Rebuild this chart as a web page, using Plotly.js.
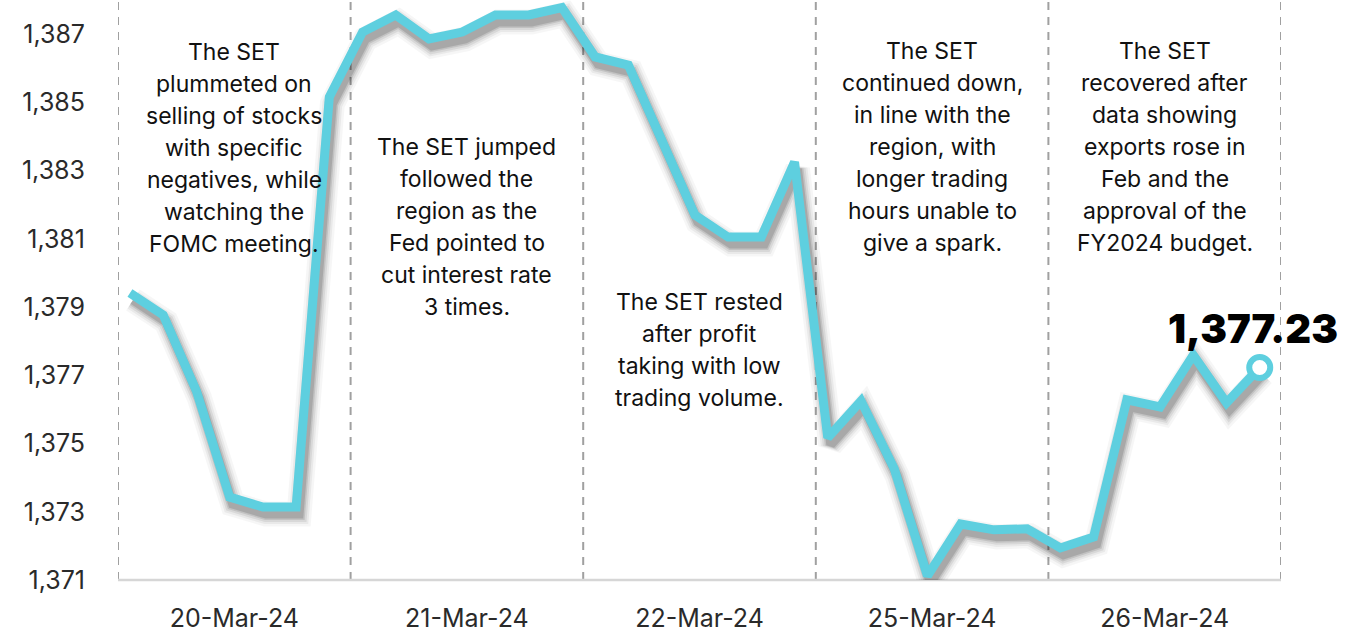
<!DOCTYPE html>
<html>
<head>
<meta charset="utf-8">
<script src="https://cdn.plot.ly/plotly-3.0.1.min.js"></script>
<style>
  html, body { margin: 0; padding: 0; background: #fff; }
  #chart { width: 1348px; height: 633px; }
</style>
</head>
<body>
<div id="chart"></div>
<script>
// ---- data ----
const days = ['20-Mar-24', '21-Mar-24', '22-Mar-24', '25-Mar-24', '26-Mar-24'];
const pointsPerDay = 7;
const setIndex = [
  1379.41, 1378.77, 1376.54, 1373.43, 1373.14, 1373.14, 1385.16,
  1387.06, 1387.56, 1386.86, 1387.06, 1387.56, 1387.56, 1387.78,
  1386.33, 1386.09, 1383.90, 1381.70, 1381.05, 1381.05, 1383.25,
  1375.17, 1376.25, 1374.26, 1371.12, 1372.64, 1372.47, 1372.50,
  1371.94, 1372.26, 1376.28, 1376.07, 1377.59, 1376.19, 1377.23
];
const yTicks = [1371, 1373, 1375, 1377, 1379, 1381, 1383, 1385, 1387];
const notes = [
  ['The SET', 'plummeted on', 'selling of stocks', 'with specific', 'negatives, while', 'watching the', 'FOMC meeting.'],
  ['The SET jumped', 'followed the', 'region as the', 'Fed pointed to', 'cut interest rate', '3 times.'],
  ['The SET rested', 'after profit', 'taking with low', 'trading volume.'],
  ['The SET', 'continued down,', 'in line with the', 'region, with', 'longer trading', 'hours unable to', 'give a spark.'],
  ['The SET', 'recovered after', 'data showing', 'exports rose in', 'Feb and the', 'approval of the', 'FY2024 budget.']
];
const noteTops = [1386.47, 1383.69, 1379.15, 1386.5, 1386.5];
const lastLabel = '1,377.23';

// ---- layout helpers ----
const xIdx = setIndex.map((_, i) => i);
const startOffset = -0.36;
const xRange = [startOffset, startOffset + days.length * pointsPerDay];
const yRange = [1371, 1388];
const boundaries = days.map((_, k) => startOffset + k * pointsPerDay).concat([xRange[1]]);
const dayCenters = days.map((_, k) => startOffset + k * pointsPerDay + pointsPerDay / 2);
const lastI = setIndex.length - 1;

const lineColor = '#5ecfdf';
const textFont = 'Inter, Open Sans, sans-serif';
const linePitch = 32;

// drop shadow: same series drawn on a base axis pair whose ranges are nudged,
// so it lands a few pixels right/down of the main line
const plotW = 1348 - 118 - 67, plotH = 633 - 53;
const shadowDx = 3, shadowDy = 7;
const xPerPx = (xRange[1] - xRange[0]) / plotW;
const yPerPx = (yRange[1] - yRange[0]) / plotH;
const shadowXRange = xRange.map(v => v - shadowDx * xPerPx);
const shadowYRange = yRange.map(v => v + shadowDy * yPerPx);

const shadowLayers = [
  { w: 25, a: 0.035 },
  { w: 20, a: 0.05 },
  { w: 16, a: 0.07 },
  { w: 12, a: 0.10 },
  { w: 9, a: 0.13 }
];
const traces = shadowLayers.map(s => ({
  x: xIdx, y: setIndex, type: 'scatter', mode: 'lines', xaxis: 'x', yaxis: 'y',
  line: { color: 'rgba(0,0,0,' + s.a + ')', width: s.w },
  hoverinfo: 'skip', cliponaxis: false
}));
traces.push({
  x: xIdx, y: setIndex, type: 'scatter', mode: 'lines', xaxis: 'x2', yaxis: 'y2',
  line: { color: lineColor, width: 9, shape: 'linear' },
  hoverinfo: 'skip', cliponaxis: false
});
traces.push({
  x: [xIdx[lastI]], y: [setIndex[lastI]], type: 'scatter', mode: 'markers', xaxis: 'x2', yaxis: 'y2',
  marker: { size: 21, color: '#ffffff', line: { color: lineColor, width: 6 } },
  hoverinfo: 'skip', cliponaxis: false
});

const shapes = boundaries.map(b => ({
  type: 'line', xref: 'x2', yref: 'paper', x0: b, x1: b, y0: 0, y1: 1,
  line: { color: '#a0a0a0', width: 2, dash: '8px,7px' }, layer: 'below'
}));
shapes.push({
  type: 'line', xref: 'paper', yref: 'paper', x0: 0, x1: 1, y0: 0, y1: 0,
  line: { color: '#d6d6d6', width: 2.5 }, layer: 'below'
});

const annotations = [];
notes.forEach((lines, k) => {
  lines.forEach((t, j) => {
    annotations.push({
      x: dayCenters[k], y: noteTops[k], xref: 'x2', yref: 'y2',
      text: t, showarrow: false, xanchor: 'center', yanchor: 'middle', align: 'center',
      yshift: -linePitch * j,
      font: { family: textFont, size: 23, color: '#111111' }
    });
  });
});
annotations.push({
  x: xIdx[lastI], y: setIndex[lastI], xref: 'x2', yref: 'y2',
  text: lastLabel, showarrow: false, xanchor: 'center', yanchor: 'middle',
  xshift: -7, yshift: 39,
  font: { family: 'Inter, Liberation Sans, sans-serif', size: 40, color: '#000000', weight: 900 }
});

const hiddenAxis = { visible: false, showgrid: false, zeroline: false, fixedrange: true };

const layout = {
  width: 1348, height: 633,
  margin: { l: 118, r: 67, t: 0, b: 53 },
  paper_bgcolor: '#ffffff', plot_bgcolor: '#ffffff',
  showlegend: false,
  xaxis: Object.assign({ range: shadowXRange }, hiddenAxis),
  yaxis: Object.assign({ range: shadowYRange }, hiddenAxis),
  xaxis2: {
    overlaying: 'x', side: 'bottom', anchor: 'y2',
    range: xRange,
    tickmode: 'array', tickvals: dayCenters, ticktext: days,
    showgrid: false, zeroline: false, showline: false, ticks: '',
    ticklabelstandoff: 21,
    tickfont: { family: textFont, size: 25, color: '#2a2a2a' }
  },
  yaxis2: {
    overlaying: 'y', side: 'left', anchor: 'x2',
    range: yRange,
    tickmode: 'array', tickvals: yTicks, tickformat: ',',
    showgrid: false, zeroline: false, showline: false, ticks: '',
    ticklabelstandoff: 32,
    tickfont: { family: textFont, size: 25, color: '#2a2a2a' }
  },
  shapes: shapes,
  annotations: annotations
};

Plotly.newPlot('chart', traces, layout, { staticPlot: true, displayModeBar: false });
</script>
</body>
</html>
